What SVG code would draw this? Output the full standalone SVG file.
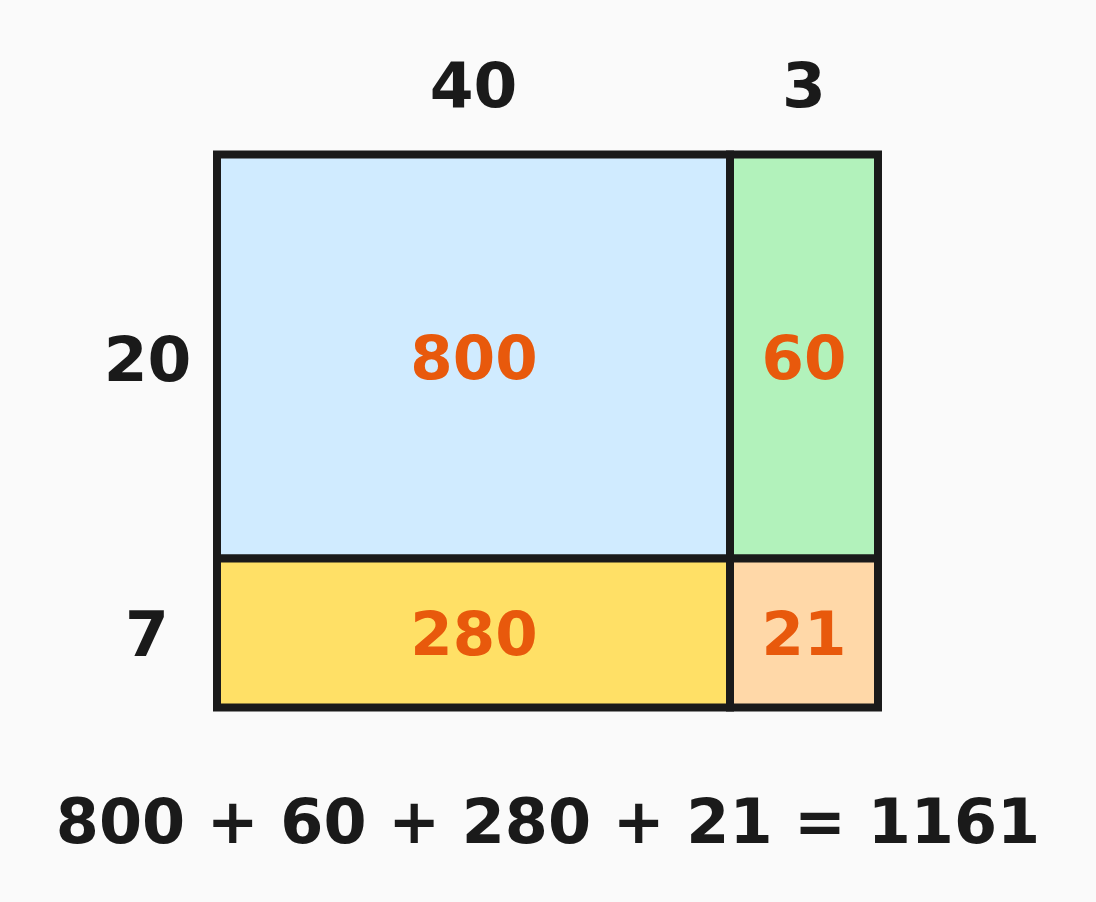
<svg xmlns="http://www.w3.org/2000/svg" width="1096" height="902" viewBox="0 0 1096 902">
<style>
.cell{stroke:#1a1a1a;stroke-width:8}
.t{font-family:"DejaVu Sans",sans-serif;font-weight:bold;text-anchor:middle}
.c{font-size:61px;fill:#e8590c}
.l{font-size:63px;fill:#1a1a1a}
.e{font-size:62px;fill:#1a1a1a}
</style>
<rect width="1096" height="902" fill="#fafafa"/>
<g id="cell-800"><rect class="cell" x="217" y="154.5" width="513" height="404" fill="#d0ebff"/><text class="t c" x="474" y="379">800</text></g>
<g id="cell-60"><rect class="cell" x="730" y="154.5" width="148" height="404" fill="#b2f2bb"/><text class="t c" x="804" y="379">60</text></g>
<g id="cell-280"><rect class="cell" x="217" y="558.5" width="513" height="149" fill="#ffe066"/><text class="t c" x="474" y="655">280</text></g>
<g id="cell-21"><rect class="cell" x="730" y="558.5" width="148" height="149" fill="#ffd8a8"/><text class="t c" x="804" y="655">21</text></g>
<g id="labels">
<text class="t l" x="473.5" y="107">40</text>
<text class="t l" x="804" y="107">3</text>
<text class="t l" x="147.5" y="381">20</text>
<text class="t l" x="147" y="656">7</text>
<text class="t e" x="548" y="843">800 + 60 + 280 + 21 = 1161</text>
</g>
<g id="connectors"/>
</svg>
